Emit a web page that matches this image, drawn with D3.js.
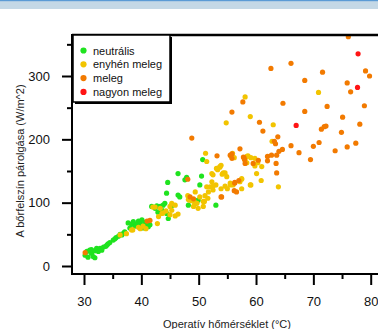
<!DOCTYPE html>
<html>
<head>
<meta charset="utf-8">
<script src="https://cdn.jsdelivr.net/npm/d3@7"></script>
<style>
  body { margin: 0; background: #fff; }
  svg { display: block; font-family: "Liberation Sans", Arial, sans-serif; }
</style>
</head>
<body>
<svg id="chart" width="378" height="329"></svg>
<script>
// categories of thermal sensation
const categories = ["neutrális", "enyhén meleg", "meleg", "nagyon meleg"];
const colors = ["#1fe31f", "#f2c400", "#f27a00", "#ff1414"];

// [operative temperature (°C), skin evaporation (W/m^2)]
const neutralis = [
  [30.2,17],[30.5,23],[31.0,25],[31.3,20],[31.6,15],[31.9,24],[32.2,28],[32.5,23],[31.3,26],
  [32.8,28],[33.4,30],[34.0,33],[34.5,37],[35.1,41],[35.6,45],[36.0,47],[36.6,49],[36.9,52],
  [37.7,68],[38.3,66],[38.9,63],[39.5,71],[39.8,67],[40.3,60],[40.8,65],[41.2,62],
  [41.8,94],[42.4,91],[42.7,95],[43.3,94],[43.6,88],[43.8,96],[44.1,99],[44.4,83],[44.7,75],
  [44.4,115],[44.6,132],[46.4,146],[47.6,136],[47.9,140],[46.4,112],[46.7,109],[48.2,96],
  [49.1,104],[49.4,99],[49.9,104],[50.2,128],[50.5,142],[50.7,168],[53.0,96],
  [30.7,14],[31.9,13],[33.1,25],[34.2,35],[37.1,54],[38.0,60],[39.1,66],[40.1,73],[40.6,69],
  [41.5,65],[42.9,85],[45.3,95],[33.8,31],[35.4,43],[36.3,50],[38.6,70]
];
const enyhen = [
  [36.3,49],[37.4,51],[38.3,57],[39.5,61],[40.3,63],[38.5,57],[39.8,59],[40.8,59],
  [43.3,91],[43.6,83],[43.0,78],[42.8,67],[43.8,84],[44.3,87],[45.0,94],[45.3,88],[45.9,79],
  [46.4,82],[45.0,81],[48.2,105],[49.4,117],[50.2,109],[50.8,102],[50.8,94],[49.9,91],[49.1,94],
  [51.4,125],[51.7,117],[52.3,133],[52.5,144],[53.1,154],[53.7,157],[54.3,147],[54.9,141],
  [55.5,131],[56.0,128],[57.2,133],[57.5,138],[58.4,173],[59.0,128],[59.8,170],
  [58.1,267],[59.0,236],[54.8,226],[63.0,223],[51.2,178],[55.9,178],[55.6,174],[56.2,171],
  [58.6,174],[59.1,171],[51.4,165],[61.0,157],[60.1,146],[60.9,135],[59.1,128],[63.9,125],
  [62.8,197],[70.9,274],[53.7,156],[53.9,159],[53.3,152],[54.1,145],[54.6,147],[52.3,146],
  [57.5,137],[57.5,122],[58.1,167],[59.8,158],[58.4,163],[60.3,163],
  [48.1,111],[48.4,104],[48.8,103],[49.2,102],[49.7,99],[51.1,111],[51.6,107],[51.0,102],
  [52.0,125],[52.5,126],[53.0,128],[52.5,120],[53.9,122],[54.6,126],[55.0,122],[55.5,128],
  [42.4,93],[42.0,93],[45.3,99],[45.9,96]
];
const meleg = [
  [76.1,362],[62.6,312],[66.1,320],[71.6,306],[79.1,308],[79.8,300],[68.5,293],[75.9,289],
  [76.5,275],[57.7,259],[64.7,257],[55.8,243],[68.5,244],[72.4,252],[78.9,253],[75.1,235],
  [60.6,227],[78.1,224],[71.9,220],[71.4,216],[72.2,221],[61.2,213],[74.9,211],[48.8,202],
  [63.8,204],[63.2,197],[63.4,193],[71.0,195],[70.0,189],[66.1,190],[77.4,194],[75.9,188],
  [57.2,185],[64.6,184],[64.0,181],[67.5,179],[73.8,182],[53.2,174],[57.9,171],[62.0,173],
  [62.7,175],[60.4,167],[69.5,168],[58.0,168],[62.0,166],[63.6,175],[63.5,162],[63.6,147],
  [48.1,137],[56.3,132],[57.0,135],[56.2,119],[53.9,109],[48.5,109],[49.1,106],[41.0,71],
  [41.5,72],[30.2,21],[55.8,170],[55.5,175],[55.8,177],[57.8,172],[58.1,162],[59.5,162],
  [56.3,131],[56.6,117],[54.0,109]
];
const nagyon = [[77.8,335],[77.7,282],[67.0,222]];
const series = [neutralis, enyhen, meleg, nagyon];

const xTicks = [30, 40, 50, 60, 70, 80];
const xMinor = [35, 45, 55, 65, 75];
const yTicks = [0, 100, 200, 300];
const yMinor = [50, 150, 250, 350];

const svg = d3.select("#chart");

// header strip
svg.append("rect").attr("x", 0).attr("y", 0).attr("width", 378).attr("height", 9).attr("fill", "#c4d8e6");
svg.append("rect").attr("x", 0).attr("y", 0).attr("width", 378).attr("height", 1.2).attr("fill", "#5b9bd5");

const x = d3.scaleLinear().domain([30, 80]).range([84, 370.7]);
const y = d3.scaleLinear().domain([0, 300]).range([266, 76]);

const axisX = 72, axisY = 274;

// points
series.forEach((pts, i) => {
  svg.append("g").selectAll("circle")
    .data(pts)
    .enter()
    .append("circle")
      .attr("cx", d => x(d[0]))
      .attr("cy", d => y(d[1]))
      .attr("r", 2.6)
      .attr("fill", colors[i]);
});

// axes
const gy = svg.append("g").attr("transform", "translate(" + axisX + ",0)");
gy.call(d3.axisLeft(y).tickValues(yTicks).tickSize(10).tickPadding(12).tickFormat(d3.format("d")));
gy.append("g").call(d3.axisLeft(y).tickValues(yMinor).tickSize(5).tickFormat(""));

const gx = svg.append("g").attr("transform", "translate(0," + axisY + ")");
gx.call(d3.axisBottom(x).tickValues(xTicks).tickSize(11).tickPadding(12).tickFormat(d3.format("d")));
gx.append("g").call(d3.axisBottom(x).tickValues(xMinor).tickSize(5).tickFormat(""));

svg.selectAll(".domain").remove();
svg.selectAll(".tick line").attr("stroke", "#000").attr("stroke-width", 2);
svg.selectAll(".tick text").attr("font-size", 13).attr("fill", "#111")
  .attr("font-family", "'Liberation Sans', Arial, sans-serif");

// axis lines and top frame
svg.append("line").attr("x1", axisX).attr("x2", axisX).attr("y1", 34).attr("y2", axisY + 1)
  .attr("stroke", "#000").attr("stroke-width", 2);
svg.append("line").attr("x1", axisX - 1).attr("x2", 378).attr("y1", axisY).attr("y2", axisY)
  .attr("stroke", "#000").attr("stroke-width", 2);
svg.append("line").attr("x1", axisX).attr("x2", 378).attr("y1", 35).attr("y2", 35)
  .attr("stroke", "#000").attr("stroke-width", 2.5);

// axis titles
svg.append("text")
  .attr("x", 227).attr("y", 328)
  .attr("text-anchor", "middle")
  .attr("font-size", 11).attr("fill", "#222")
  .text("Operatív hőmérséklet (°C)");
svg.append("text")
  .attr("transform", "translate(24,161)rotate(-90)")
  .attr("text-anchor", "middle")
  .attr("font-size", 11).attr("fill", "#222")
  .text("A bőrfelszín párolgása (W/m^2)");

// legend
const lg = svg.append("g");
lg.append("rect").attr("x", 75).attr("y", 37).attr("width", 97).attr("height", 67).attr("fill", "#000");
lg.append("rect").attr("x", 73).attr("y", 35).attr("width", 97).attr("height", 67)
  .attr("fill", "#fff").attr("stroke", "#000").attr("stroke-width", 1.5);
categories.forEach((c, i) => {
  lg.append("circle").attr("cx", 83.5).attr("cy", 50.5 + i * 13.8).attr("r", 3.1).attr("fill", colors[i]);
  lg.append("text").attr("x", 93).attr("y", 54.5 + i * 13.8)
    .attr("font-size", 11).attr("fill", "#111").text(c);
});
</script>
</body>
</html>
